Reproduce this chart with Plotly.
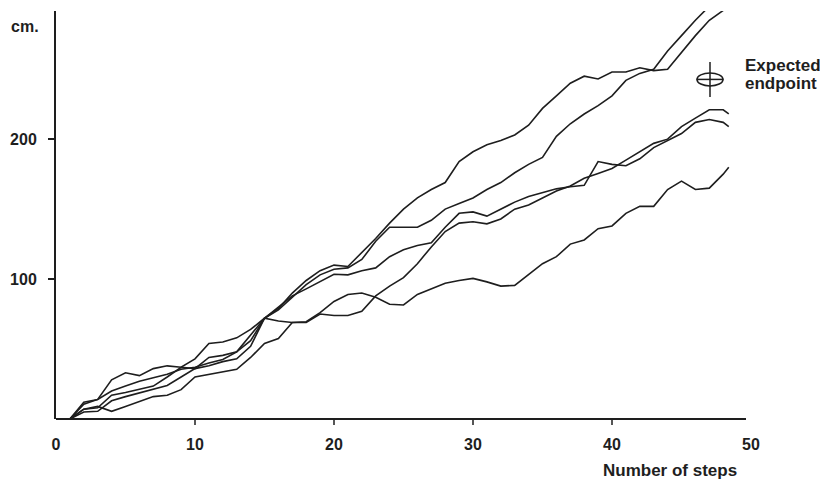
import plotly.graph_objects as go

# ---------------- data ----------------
STEPS = list(range(1, 49)) + [48.4]

WALK_A = [0, 10.5, 14, 28, 33, 31, 36, 38, 37, 43, 54, 55, 58, 64, 72,
          79, 90, 99, 106, 110, 109, 119, 129, 140, 150, 158, 164, 169, 184, 191,
          196, 199, 203, 210, 222, 231, 240, 245, 243, 248, 248, 251, 249, 250, 262,
          274, 285, 292, 297]
WALK_B = [0, 12, 14, 20, 23.5, 27, 29.5, 32, 35.5, 37, 40, 42.5, 48, 60, 72,
          78, 87, 96, 103, 107, 108, 114, 127, 137, 137, 137, 142, 150, 154, 158,
          164, 169, 176, 182, 187, 202, 211, 218, 224, 231, 242, 247, 250, 263, 274,
          285, 295, 305, 309]
WALK_C = [0, 5, 5.5, 13, 16, 18.5, 21, 24, 30, 36, 38, 41, 43, 52, 72,
          70, 69, 69, 75, 74, 74, 77, 88, 95, 101, 111, 123, 134, 140, 141,
          139.5, 143, 150, 153, 158, 163, 166.5, 172, 175.5, 179, 185, 191, 197, 200, 209,
          215, 221, 221, 218]
WALK_D = [0, 7, 8, 17, 19, 21, 23.5, 30, 37, 36, 44, 45.5, 48, 56, 72,
          80, 88, 93, 98, 103.5, 103, 106, 108, 116, 121, 124, 126, 137, 147, 148,
          145, 150, 155, 159, 162, 164.5, 166, 167, 184, 182, 181, 186, 194, 199, 204,
          212, 214, 212, 209]
WALK_E = [0, 7, 9, 5.5, 9, 12.5, 16, 17, 21, 30, 32, 34, 35.5, 44, 54,
          57.5, 69, 69.5, 76, 84, 89, 90, 87, 82, 81.5, 89, 93, 97, 99, 100.5,
          98, 95, 95.5, 103, 111, 116, 125, 128, 136, 138, 147, 152, 152, 164, 170,
          164, 165, 175, 180]
WALKS = [WALK_A, WALK_B, WALK_C, WALK_D, WALK_E]

X_TICKS = [0, 10, 20, 30, 40, 50]
X_MARKED_TICKS = [10, 20, 30, 40]
Y_TICKS = [100, 200]
EXPECTED_STEP = 47.05
EXPECTED_CM = 242.7

X_RANGE = [0, 50]
Y_RANGE = [0, 291.6]

INK = "#1e1e1e"
FONT = "Liberation Sans, Arial, sans-serif"

fig = go.Figure()
for w in WALKS:
    fig.add_trace(go.Scatter(x=STEPS, y=w, mode="lines",
                             line=dict(color=INK, width=1.6),
                             showlegend=False, hoverinfo="skip"))

shapes = []
# x axis line (extends a little left of the y axis, ends just before 50)
shapes.append(dict(type="line", xref="x", yref="paper", x0=-0.43, x1=49.64, y0=0, y1=0,
                   line=dict(color=INK, width=2)))
# small stub at bottom left
shapes.append(dict(type="line", xref="x", yref="y", x0=-0.43, x1=-0.43, y0=0, y1=6.4,
                   line=dict(color=INK, width=1.5)))
# x tick marks
for t in X_MARKED_TICKS:
    shapes.append(dict(type="line", xref="x", yref="paper", ysizemode="pixel", yanchor=0,
                       x0=t, x1=t, y0=0, y1=-6, line=dict(color=INK, width=1.5)))
# expected endpoint symbol
shapes.append(dict(type="circle", xref="x", yref="y", xsizemode="pixel", ysizemode="pixel",
                   xanchor=EXPECTED_STEP, yanchor=EXPECTED_CM, x0=-13, x1=13, y0=-6.5, y1=6.5,
                   line=dict(color=INK, width=1.5)))
shapes.append(dict(type="line", xref="x", yref="y", xsizemode="pixel", ysizemode="pixel",
                   xanchor=EXPECTED_STEP, yanchor=EXPECTED_CM, x0=0, x1=0, y0=-17.5, y1=17.5,
                   line=dict(color=INK, width=1.5)))
shapes.append(dict(type="line", xref="x", yref="y", xsizemode="pixel", ysizemode="pixel",
                   xanchor=EXPECTED_STEP, yanchor=EXPECTED_CM, x0=-13.5, x1=13.5, y0=0, y1=0,
                   line=dict(color=INK, width=1.5)))

lab_font = dict(family=FONT, size=17, color=INK, weight="bold")
annotations = [
    dict(text="cm.", xref="paper", yref="paper", x=-0.0676, y=0.962, xanchor="left",
         yanchor="middle", showarrow=False, font=dict(family=FONT, size=16, color=INK, weight="bold")),
    dict(text="Number of steps", xref="paper", yref="paper", x=0.983, y=-0.127,
         xanchor="right", yanchor="middle", showarrow=False, font=lab_font),
    dict(text="Expected", xref="paper", yref="paper", x=0.9885, y=0.866,
         xanchor="left", yanchor="middle", showarrow=False, font=lab_font),
    dict(text="endpoint", xref="paper", yref="paper", x=0.9885, y=0.823,
         xanchor="left", yanchor="middle", showarrow=False, font=lab_font),
]

fig.update_layout(
    width=820, height=483,
    margin=dict(l=56, r=69, t=11, b=64),
    paper_bgcolor="white", plot_bgcolor="white",
    shapes=shapes, annotations=annotations,
    xaxis=dict(range=X_RANGE, tickmode="array", tickvals=X_TICKS, ticks="",
               showline=False, showgrid=False, zeroline=False,
               ticklabelstandoff=14,
               tickfont=dict(family=FONT, size=16, color=INK, weight="bold")),
    yaxis=dict(range=Y_RANGE, tickmode="array", tickvals=Y_TICKS, ticks="outside",
               ticklen=6, tickwidth=2, tickcolor=INK,
               showline=True, linecolor=INK, linewidth=2,
               showgrid=False, zeroline=False, ticklabelstandoff=8,
               tickfont=dict(family=FONT, size=16, color=INK, weight="bold")),
)

fig.write_html("out.html", config={"displayModeBar": False},
               post_script="document.body.style.margin='0';document.body.style.padding='0';")
